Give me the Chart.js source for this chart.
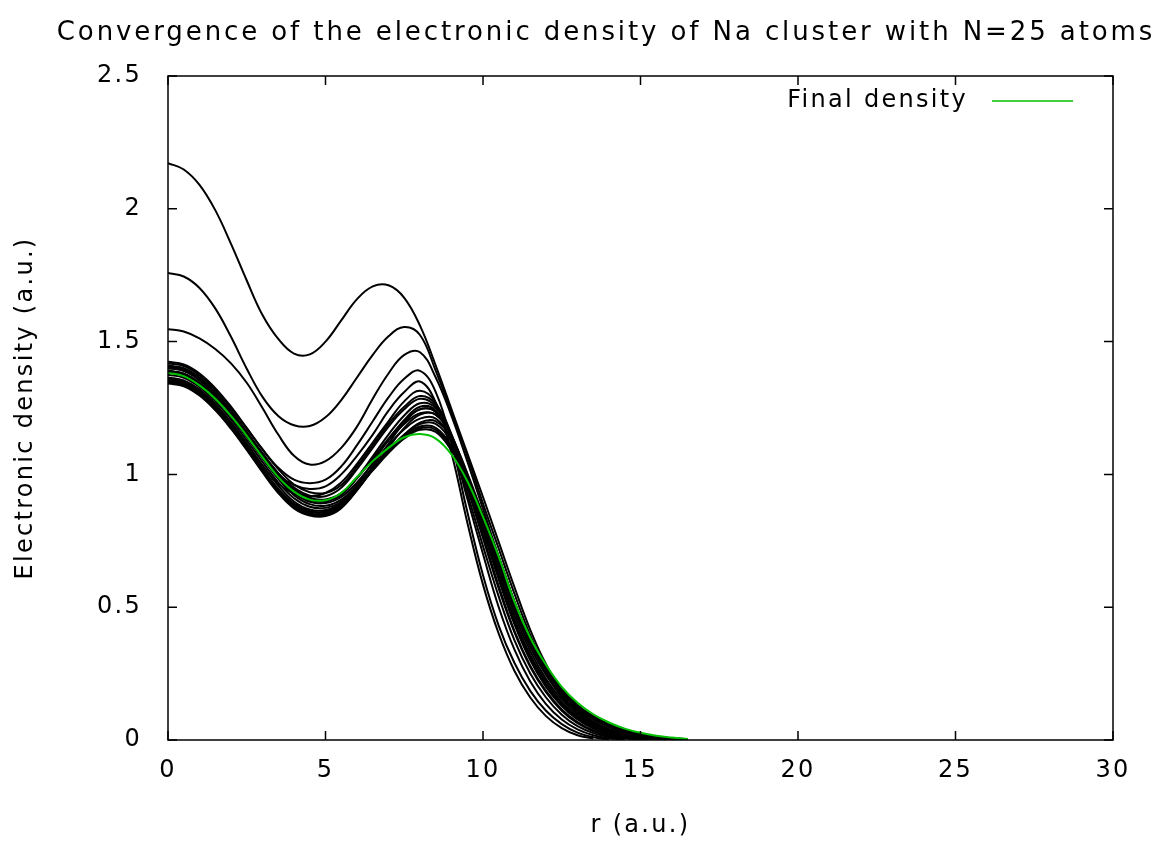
<!DOCTYPE html>
<html>
<head>
<meta charset="utf-8">
<title>Convergence of the electronic density</title>
<script src="https://cdn.jsdelivr.net/npm/chart.js@4.4.1/dist/chart.umd.min.js"></script>
<style>
  html, body { margin: 0; padding: 0; background: #fff; }
  #chart { display: block; }
</style>
</head>
<body>
<canvas id="chart" width="1163" height="841"></canvas>
<script>
// radial grid (a.u.) shared by every iteration
const radius = [0, 0.5, 1, 1.5, 2, 2.5, 3, 3.5, 4, 4.5, 5, 5.5, 6, 6.5, 7, 7.5,
  8, 8.5, 9, 9.5, 10, 10.5, 11, 11.5, 12, 12.5, 13, 13.5, 14, 14.5, 15, 15.5, 16, 16.5, 17];

const xTicks = [0, 5, 10, 15, 20, 25, 30];
const yTicks = [0, 0.5, 1, 1.5, 2, 2.5];

// intermediate densities
const iter01 = [2.172, 2.148, 2.090, 1.995, 1.868, 1.730, 1.600, 1.510, 1.455, 1.452, 1.500, 1.580, 1.660, 1.708, 1.712, 1.665,
  1.560, 1.410, 1.245, 1.080, 0.915, 0.745, 0.575, 0.415, 0.285, 0.185, 0.115, 0.068, 0.038, 0.020, 0.009, 0.003, null, null, null];
const iter02 = [1.758, 1.745, 1.702, 1.625, 1.518, 1.398, 1.292, 1.220, 1.185, 1.182, 1.215, 1.280, 1.365, 1.450, 1.520, 1.555,
  1.525, 1.390, 1.235, 1.070, 0.890, 0.720, 0.550, 0.395, 0.270, 0.175, 0.107, 0.062, 0.034, 0.017, 0.007, 0.002, null, null, null];
const iter03 = [1.547, 1.538, 1.512, 1.472, 1.418, 1.345, 1.250, 1.150, 1.070, 1.037, 1.050, 1.100, 1.180, 1.285, 1.380, 1.450,
  1.460, 1.365, 1.220, 1.050, 0.870, 0.690, 0.520, 0.370, 0.250, 0.160, 0.097, 0.055, 0.029, 0.014, 0.006, 0.002, null, null, null];
const iter04 = [1.424, 1.414, 1.380, 1.325, 1.255, 1.175, 1.095, 1.025, 0.980, 0.967, 0.980, 1.030, 1.110, 1.200, 1.290, 1.360,
  1.390, 1.310, 1.120, 0.860, 0.620, 0.430, 0.290, 0.185, 0.110, 0.060, 0.028, 0.010, 0.002, null, null, null, null, null, null];
const iter05 = [1.400, 1.390, 1.355, 1.300, 1.230, 1.150, 1.070, 1.000, 0.960, 0.945, 0.955, 1.000, 1.070, 1.150, 1.240, 1.310,
  1.350, 1.270, 1.080, 0.820, 0.585, 0.400, 0.260, 0.160, 0.090, 0.045, 0.018, 0.005, null, null, null, null, null, null, null];
const iter06 = [1.360, 1.350, 1.315, 1.260, 1.190, 1.110, 1.030, 0.965, 0.928, 0.918, 0.930, 0.970, 1.040, 1.120, 1.200, 1.275,
  1.315, 1.270, 1.120, 0.910, 0.700, 0.500, 0.340, 0.220, 0.135, 0.077, 0.040, 0.018, 0.007, 0.002, null, null, null, null, null];
const iter07 = [1.410, 1.400, 1.365, 1.310, 1.240, 1.160, 1.080, 1.005, 0.950, 0.920, 0.918, 0.950, 1.020, 1.100, 1.180, 1.245,
  1.285, 1.255, 1.130, 0.930, 0.730, 0.540, 0.375, 0.250, 0.160, 0.095, 0.052, 0.026, 0.011, 0.004, null, null, null, null, null];
const iter08 = [1.350, 1.340, 1.305, 1.250, 1.180, 1.100, 1.020, 0.945, 0.890, 0.862, 0.860, 0.890, 0.960, 1.045, 1.130, 1.205,
  1.255, 1.240, 1.130, 0.950, 0.760, 0.570, 0.405, 0.275, 0.180, 0.110, 0.063, 0.033, 0.016, 0.007, 0.002, null, null, null, null];
const iter09 = [1.400, 1.390, 1.355, 1.300, 1.232, 1.155, 1.075, 1.000, 0.940, 0.908, 0.902, 0.925, 0.985, 1.060, 1.135, 1.200,
  1.245, 1.235, 1.140, 0.975, 0.790, 0.610, 0.440, 0.310, 0.210, 0.135, 0.082, 0.047, 0.025, 0.012, 0.005, 0.001, null, null, null];
const iter10 = [1.345, 1.335, 1.300, 1.245, 1.175, 1.095, 1.012, 0.935, 0.875, 0.848, 0.847, 0.875, 0.940, 1.020, 1.100, 1.175,
  1.225, 1.225, 1.140, 0.990, 0.815, 0.640, 0.470, 0.335, 0.230, 0.152, 0.096, 0.058, 0.033, 0.017, 0.008, 0.003, null, null, null];
const iter11 = [1.390, 1.378, 1.343, 1.290, 1.222, 1.145, 1.065, 0.990, 0.930, 0.897, 0.892, 0.915, 0.970, 1.040, 1.110, 1.170,
  1.210, 1.210, 1.130, 0.995, 0.830, 0.660, 0.490, 0.355, 0.250, 0.170, 0.110, 0.070, 0.042, 0.024, 0.012, 0.005, 0.002, null, null];
const iter12 = [1.355, 1.345, 1.310, 1.255, 1.185, 1.105, 1.022, 0.945, 0.885, 0.858, 0.857, 0.883, 0.945, 1.020, 1.090, 1.150,
  1.190, 1.190, 1.120, 0.995, 0.840, 0.675, 0.505, 0.365, 0.262, 0.180, 0.120, 0.078, 0.049, 0.029, 0.016, 0.008, 0.003, null, null];
const iter13 = [1.385, 1.373, 1.338, 1.285, 1.218, 1.140, 1.060, 0.983, 0.922, 0.888, 0.882, 0.905, 0.960, 1.025, 1.090, 1.145,
  1.180, 1.175, 1.105, 0.990, 0.845, 0.685, 0.515, 0.375, 0.270, 0.188, 0.127, 0.085, 0.055, 0.034, 0.020, 0.011, 0.005, 0.002, null];
const iter14 = [1.365, 1.354, 1.320, 1.265, 1.196, 1.117, 1.035, 0.958, 0.898, 0.868, 0.866, 0.892, 0.950, 1.015, 1.080, 1.135,
  1.168, 1.160, 1.090, 0.985, 0.845, 0.690, 0.520, 0.380, 0.276, 0.193, 0.132, 0.090, 0.060, 0.038, 0.023, 0.013, 0.007, 0.003, null];
const iter15 = [1.418, 1.408, 1.373, 1.318, 1.250, 1.172, 1.093, 1.020, 0.962, 0.933, 0.930, 0.960, 1.030, 1.110, 1.190, 1.255,
  1.295, 1.265, 1.150, 0.965, 0.770, 0.580, 0.410, 0.280, 0.185, 0.115, 0.067, 0.036, 0.018, 0.008, 0.003, null, null, null, null];
const iter16 = [1.342, 1.332, 1.297, 1.242, 1.172, 1.092, 1.008, 0.930, 0.872, 0.845, 0.843, 0.873, 0.945, 1.030, 1.115, 1.195,
  1.245, 1.235, 1.140, 0.975, 0.790, 0.605, 0.435, 0.300, 0.200, 0.128, 0.077, 0.043, 0.022, 0.010, 0.004, null, null, null, null];
const iter17 = [1.405, 1.395, 1.360, 1.305, 1.236, 1.158, 1.078, 1.003, 0.944, 0.912, 0.906, 0.930, 0.988, 1.058, 1.128, 1.190,
  1.230, 1.225, 1.145, 1.000, 0.830, 0.655, 0.485, 0.350, 0.245, 0.165, 0.105, 0.064, 0.037, 0.020, 0.010, 0.004, null, null, null];
const iter18 = [1.350, 1.340, 1.305, 1.250, 1.180, 1.100, 1.017, 0.940, 0.880, 0.853, 0.852, 0.880, 0.942, 1.017, 1.087, 1.148,
  1.195, 1.200, 1.135, 1.005, 0.845, 0.678, 0.508, 0.368, 0.265, 0.183, 0.123, 0.081, 0.051, 0.031, 0.018, 0.009, 0.004, null, null];
const iter19 = [1.375, 1.364, 1.329, 1.275, 1.207, 1.128, 1.047, 0.970, 0.910, 0.878, 0.874, 0.898, 0.955, 1.020, 1.085, 1.140,
  1.174, 1.168, 1.100, 0.988, 0.845, 0.688, 0.518, 0.378, 0.273, 0.190, 0.130, 0.088, 0.058, 0.036, 0.021, 0.012, 0.006, 0.002, null];
const iter20 = [1.390, 1.380, 1.345, 1.292, 1.224, 1.147, 1.068, 0.994, 0.936, 0.903, 0.898, 0.923, 0.988, 1.068, 1.150, 1.222,
  1.268, 1.250, 1.150, 0.985, 0.805, 0.625, 0.455, 0.320, 0.220, 0.142, 0.088, 0.051, 0.028, 0.014, 0.006, 0.002, null, null, null];

// converged density
const finalDensity = [1.382, 1.370, 1.335, 1.285, 1.220, 1.145, 1.065, 0.990, 0.935, 0.905, 0.903, 0.930, 0.990, 1.050, 1.100, 1.140,
  1.152, 1.135, 1.075, 0.975, 0.840, 0.690, 0.520, 0.385, 0.283, 0.200, 0.140, 0.097, 0.066, 0.043, 0.027, 0.016, 0.009, 0.004, null];

const iterations = [iter01, iter02, iter03, iter04, iter05, iter06, iter07, iter08, iter09, iter10,
  iter11, iter12, iter13, iter14, iter15, iter16, iter17, iter18, iter19, iter20];

const FONT = '"DejaVu Sans", sans-serif';
const SPACING = '2.3px';

function toPoints(values) {
  return radius.map((r, i) => ({ x: r, y: values[i] }));
}

const datasets = [{
  label: 'Final density',
  data: toPoints(finalDensity),
  borderColor: '#00c000',
  borderWidth: 2
}];
iterations.forEach(function (it) {
  datasets.push({
    label: '',
    data: toPoints(it),
    borderColor: '#000',
    borderWidth: 2
  });
});

// gnuplot-like frame with inward ticks on all four sides, plus title and key
const gnuplotFrame = {
  id: 'gnuplotFrame',
  beforeLayout(chart) { chart.ctx.letterSpacing = SPACING; },
  beforeDraw(chart) { chart.ctx.letterSpacing = SPACING; },
  afterDatasetsDraw(chart) {
    const { ctx, chartArea: a, scales: { x, y } } = chart;
    const tick = 9;
    ctx.save();
    ctx.strokeStyle = '#000';
    ctx.lineWidth = 1.5;
    ctx.strokeRect(a.left, a.top, a.right - a.left, a.bottom - a.top);
    ctx.beginPath();
    x.ticks.forEach(t => {
      const px = x.getPixelForValue(t.value);
      ctx.moveTo(px, a.bottom); ctx.lineTo(px, a.bottom - tick);
      ctx.moveTo(px, a.top); ctx.lineTo(px, a.top + tick);
    });
    y.ticks.forEach(t => {
      const py = y.getPixelForValue(t.value);
      ctx.moveTo(a.left, py); ctx.lineTo(a.left + tick, py);
      ctx.moveTo(a.right, py); ctx.lineTo(a.right - tick, py);
    });
    ctx.stroke();

    // key, top right inside the plot
    ctx.letterSpacing = SPACING;
    ctx.font = '24px ' + FONT;
    ctx.fillStyle = '#000';
    ctx.textAlign = 'right';
    ctx.textBaseline = 'middle';
    ctx.fillText(datasets[0].label, a.right - 145, a.top + 25);
    ctx.strokeStyle = datasets[0].borderColor;
    ctx.lineWidth = 1.5;
    ctx.beginPath();
    ctx.moveTo(a.right - 121, a.top + 25);
    ctx.lineTo(a.right - 40, a.top + 25);
    ctx.stroke();

    // title
    ctx.font = '26px ' + FONT;
    ctx.letterSpacing = '2.9px';
    ctx.textAlign = 'center';
    ctx.fillText('Convergence of the electronic density of Na cluster with N=25 atoms', 606, 33);
    ctx.restore();
  }
};

const ctx = document.getElementById('chart').getContext('2d');
new Chart(ctx, {
  type: 'line',
  data: { datasets: datasets },
  options: {
    responsive: false,
    animation: false,
    devicePixelRatio: 1,
    layout: { padding: { top: 76, right: 50, left: 0, bottom: 0 } },
    elements: {
      point: { radius: 0 },
      line: { tension: 0.4, fill: false }
    },
    plugins: {
      legend: { display: false },
      title: { display: false },
      tooltip: { enabled: false }
    },
    scales: {
      x: {
        type: 'linear',
        min: 0,
        max: 30,
        afterBuildTicks: s => { s.ticks = xTicks.map(v => ({ value: v })); },
        afterFit: s => { s.height = 101; },
        grid: { display: false, drawTicks: false },
        border: { display: false },
        ticks: { color: '#000', padding: 16, font: { family: FONT, size: 24 }, callback: v => String(v) },
        title: {
          display: true,
          text: 'r (a.u.)',
          color: '#000',
          padding: { top: 0, bottom: 1 },
          font: { family: FONT, size: 24 }
        }
      },
      y: {
        type: 'linear',
        min: 0,
        max: 2.5,
        afterBuildTicks: s => { s.ticks = yTicks.map(v => ({ value: v })); },
        afterFit: s => { s.width = 168; },
        grid: { display: false, drawTicks: false },
        border: { display: false },
        ticks: { color: '#000', padding: 26, font: { family: FONT, size: 24 }, callback: v => String(v) },
        title: {
          display: true,
          text: 'Electronic density (a.u.)',
          color: '#000',
          padding: { top: 11, bottom: 0 },
          font: { family: FONT, size: 24 }
        }
      }
    }
  },
  plugins: [gnuplotFrame]
});
</script>
</body>
</html>
